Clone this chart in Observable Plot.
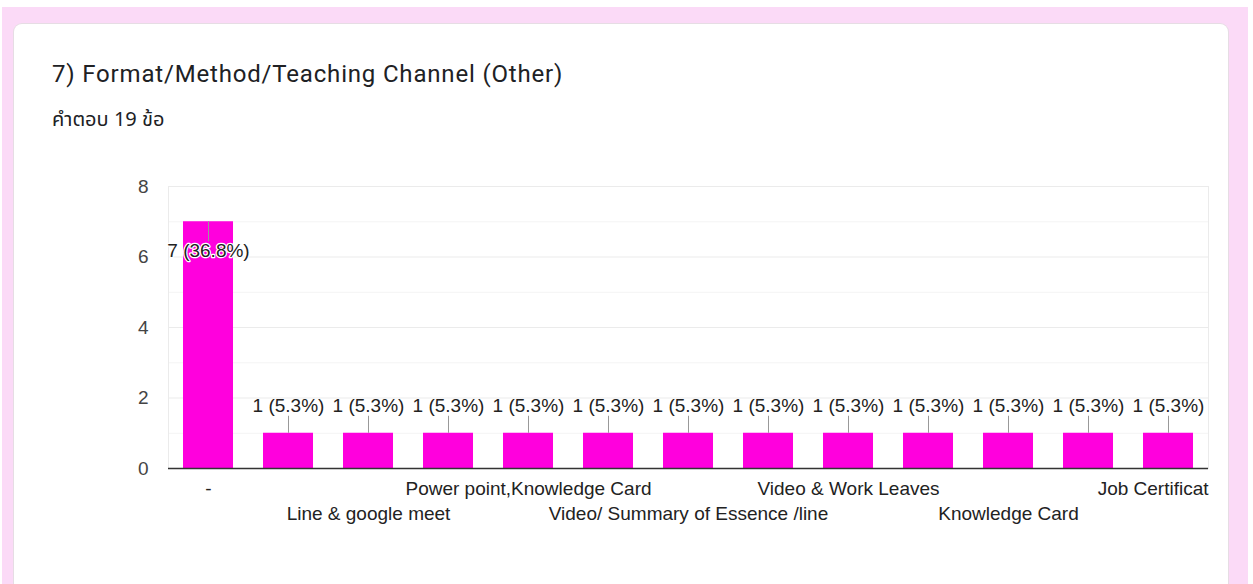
<!DOCTYPE html>
<html>
<head>
<meta charset="utf-8">
<script src="https://cdn.jsdelivr.net/npm/d3@7"></script>
<script src="https://cdn.jsdelivr.net/npm/@observablehq/plot@0.6"></script>
<style>
  html, body { margin: 0; padding: 0; background: #ffffff; width: 1253px; height: 584px; overflow: hidden; }
  #bg { position: absolute; left: 2px; top: 7px; width: 1246px; height: 600px; background: #fbdaf7; }
  #card { position: absolute; left: 14px; top: 24px; width: 1214px; height: 600px; background: #fff;
          border-radius: 8px; box-shadow: 0 0 0 1px #e6dde4; }
  #title { position: absolute; left: 52px; top: 60px; font-family: Roboto, "Open Sans", sans-serif;
           font-size: 24px; letter-spacing: 0.82px; color: #202124; white-space: nowrap; line-height: 28px; }
  #subtitle { position: absolute; left: 52px; top: 107px; font-family: "Noto Sans Thai", "Noto Sans", Roboto, sans-serif;
              font-size: 20px; color: #202124; white-space: nowrap; line-height: 26px; }
  #chart { position: absolute; left: 100px; top: 170px; }
</style>
</head>
<body>
<div id="bg"></div>
<div id="card"></div>
<div id="title">7) Format/Method/Teaching Channel (Other)</div>
<div id="subtitle">คำตอบ 19 ข้อ</div>
<div id="chart"></div>
<script>
// Categories (labels of even-position bars are not shown in the reference and could not be read)
const categories = [
  "-",
  "Other response 2",
  "Line & google meet",
  "Other response 4",
  "Power point,Knowledge Card",
  "Other response 6",
  "Video/ Summary of Essence /line",
  "Other response 8",
  "Video & Work Leaves",
  "Other response 10",
  "Knowledge Card",
  "Other response 12",
  "Job Certificat"
];
const counts = [7, 1, 1, 1, 1, 1, 1, 1, 1, 1, 1, 1, 1];
const totalResponses = 19;
const yTicks = [0, 2, 4, 6, 8];
const minorTicks = [1, 3, 5, 7];

const data = categories.map((c, i) => ({cat: c, value: counts[i], idx: i}));
const label = d => `${d.value} (${(d.value / totalResponses * 100).toFixed(1)}%)`;
const maxV = d3.max(counts);
const big = data.filter(d => d.value === maxV);
const small = data.filter(d => d.value !== maxV);
const lastCat = categories[categories.length - 1];
const row1 = categories.filter((c, i) => i % 4 === 0 && c !== lastCat);
const row2 = categories.filter((c, i) => i % 4 === 2);

const font = '"Liberation Sans", Arial, sans-serif';
const fs = 19;

const chart = Plot.plot({
  width: 1109,
  height: 380,
  marginLeft: 68,
  marginRight: 1,
  marginTop: 16,
  marginBottom: 82,
  style: {fontFamily: font, fontSize: fs + "px", color: "#222", background: "transparent"},
  x: {domain: categories, paddingInner: 0.375, paddingOuter: 0.1875, label: null},
  y: {domain: [0, 8], label: null},
  marks: [
    Plot.ruleY(minorTicks, {stroke: "#f4f4f4"}),
    Plot.ruleY(yTicks, {stroke: "#ebebeb"}),
    Plot.frame({stroke: "#ebebeb"}),
    Plot.barY(data, {x: "cat", y: "value", fill: "#ff00dd"}),
    Plot.ruleY([0], {stroke: "#333", strokeWidth: 1.6}),
    Plot.axisY({ticks: yTicks, tickSize: 0, tickPadding: 20, fill: "#444", fontSize: fs, label: null}),
    Plot.axisX({ticks: row1, tickSize: 0, tickPadding: 13, fill: "#222", fontSize: fs, label: null}),
    Plot.axisX({ticks: row2, tickSize: 0, tickPadding: 38, fill: "#222", fontSize: fs, label: null}),
    // last category label, ending at the plot's right edge as in the reference
    Plot.text([lastCat], {x: d => d, frameAnchor: "bottom", text: d => d, textAnchor: "end",
                          dx: 40, dy: 26, fill: "#222", fontSize: fs}),
    // leader lines
    Plot.ruleX(small, {x: "cat", y1: "value", y2: "value", insetTop: -17, stroke: "#999"}),
    Plot.ruleX(big, {x: "cat", y1: "value", y2: "value", insetBottom: -20, stroke: "#999"}),
    // value labels
    Plot.text(small, {x: "cat", y: "value", text: label, dy: -27, fill: "#222", fontSize: fs}),
    Plot.text(big, {x: "cat", y: "value", text: label, dy: 29, fill: "#222", fontSize: fs,
                    stroke: "white", strokeWidth: 2.5})
  ]
});
document.getElementById("chart").appendChild(chart);
</script>
</body>
</html>
